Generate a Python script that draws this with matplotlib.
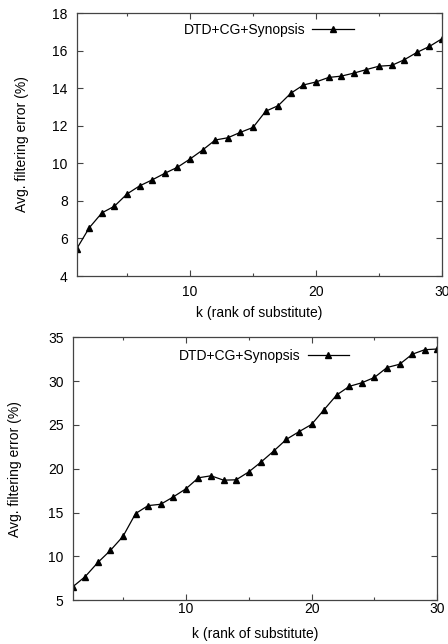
import matplotlib

matplotlib.use("Agg")
import matplotlib.pyplot as plt
from matplotlib.ticker import MultipleLocator

plt.rcParams["font.family"] = ["Liberation Sans", "DejaVu Sans"]
plt.rcParams["font.size"] = 10

k = list(range(1, 31))
series_label = "DTD+CG+Synopsis"
x_label = "k (rank of substitute)"
y_label = "Avg. filtering error (%)"

top_error = [5.45, 6.57, 7.36, 7.72, 8.37, 8.80, 9.12, 9.47, 9.79, 10.23,
             10.71, 11.24, 11.36, 11.65, 11.91, 12.77, 13.07, 13.73, 14.17, 14.33,
             14.57, 14.64, 14.80, 14.99, 15.17, 15.21, 15.51, 15.90, 16.22, 16.63]
bottom_error = [6.53, 7.71, 9.31, 10.69, 12.29, 14.89, 15.80, 15.95, 16.79, 17.71,
                18.97, 19.20, 18.70, 18.74, 19.64, 20.79, 22.04, 23.36, 24.23, 25.06,
                26.75, 28.42, 29.40, 29.81, 30.42, 31.55, 31.92, 33.06, 33.58, 33.66]


def draw_panel(ax, values, y_lim, y_step, legend_anchor, x_pad, x_labelpad, y_labelpad):
    ax.plot(k, values, color="black", linewidth=0.9, marker="^", markersize=5,
            label=series_label)
    ax.set_xlim(1, 30)
    ax.set_ylim(*y_lim)
    ax.xaxis.set_major_locator(MultipleLocator(10))
    ax.xaxis.set_minor_locator(MultipleLocator(5))
    ax.yaxis.set_major_locator(MultipleLocator(y_step))
    ax.tick_params(which="both", direction="in", top=True, right=True,
                   color="#444444", width=0.8)
    ax.tick_params(which="major", length=4)
    ax.tick_params(axis="y", which="major", pad=6.5)
    ax.tick_params(axis="x", which="major", pad=x_pad)
    ax.tick_params(which="minor", length=2.5)
    ax.set_xlabel(x_label, labelpad=x_labelpad)
    ax.set_ylabel(y_label, labelpad=y_labelpad)
    for spine in ax.spines.values():
        spine.set_color("#444444")
        spine.set_linewidth(0.9)
    ax.legend(loc="center right", bbox_to_anchor=legend_anchor, markerfirst=False,
              frameon=False, handlelength=3.0, handletextpad=0.5, borderpad=0.2)


fig = plt.figure(figsize=(4.48, 6.44), dpi=100)
ax_top = fig.add_axes([0.1712, 0.5714, 0.8154, 0.4084])
ax_bottom = fig.add_axes([0.1623, 0.0679, 0.8138, 0.4084])

draw_panel(ax_top, top_error, (4, 18), 2, (0.785, 0.935), 6.5, 5, 17)
draw_panel(ax_bottom, bottom_error, (5, 35), 5, (0.785, 0.93), 1.5, 7.5, 19)

fig.savefig("out.png", dpi=100)
plt.close(fig)
